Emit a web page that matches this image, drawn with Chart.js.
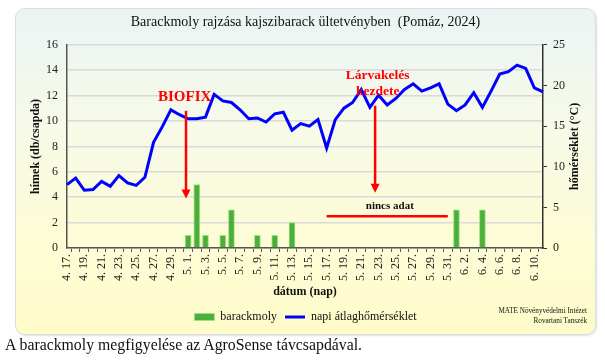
<!DOCTYPE html>
<html>
<head>
<meta charset="utf-8">
<title>Barackmoly rajzása</title>
<script src="https://cdn.jsdelivr.net/npm/chart.js@4.4.1/dist/chart.umd.min.js"></script>
<style>
    html, body { margin: 0; padding: 0; background: #fff; }
    body {
        width: 605px; height: 362px; position: relative; overflow: hidden;
        font-family: "Liberation Serif", "Times New Roman", serif;
    }
    .card {
        position: absolute; left: 15px; top: 8px; width: 579px; height: 325px;
        border: 1px solid #d9dede; border-radius: 10px;
        background: linear-gradient(to bottom, #ebf4f5 0%, #f6fae8 35%, #fdfcd6 70%, #fffcc9 100%);
        box-shadow: 1px 1px 2px rgba(0, 0, 0, 0.12);
    }
    #chartWrap { position: absolute; left: 0; top: 0; width: 605px; height: 362px; }
    .credit {
        position: absolute; right: 18px; top: 306px;
        font-size: 7.2px; line-height: 10px; text-align: right; color: #111;
    }
    .caption { position: absolute; left: 5px; top: 336px; font-size: 15.8px; color: #111; }
</style>
</head>
<body>
<div class="card"></div>
<div id="chartWrap"><canvas id="mothChart" width="605" height="362"></canvas></div>
<div class="credit">MATE Növényvédelmi Intézet<br>Rovartani Tanszék</div>
<div class="caption">A barackmoly megfigyelése az AgroSense távcsapdával.</div>

<script>
const dates = [
    '4. 17.', '4. 18.', '4. 19.', '4. 20.', '4. 21.', '4. 22.', '4. 23.', '4. 24.', '4. 25.', '4. 26.',
    '4. 27.', '4. 28.', '4. 29.', '4. 30.', '5. 1.', '5. 2.', '5. 3.', '5. 4.', '5. 5.', '5. 6.',
    '5. 7.', '5. 8.', '5. 9.', '5. 10.', '5. 11.', '5. 12.', '5. 13.', '5. 14.', '5. 15.', '5. 16.',
    '5. 17.', '5. 18.', '5. 19.', '5. 20.', '5. 21.', '5. 22.', '5. 23.', '5. 24.', '5. 25.', '5. 26.',
    '5. 27.', '5. 28.', '5. 29.', '5. 30.', '5. 31.', '6. 1.', '6. 2.', '6. 3.', '6. 4.', '6. 5.',
    '6. 6.', '6. 7.', '6. 8.', '6. 9.', '6. 10.', '6. 11.'
];

// hímek (db/csapda), null = nincs adat
const mothCounts = [
    0, 0, 0, 0, 0, 0, 0, 0, 0, 0, 0, 0, 0, 0,
    1, 5, 1, 0, 1, 3, 0, 0, 1, 0, 1, 0, 2, 0, 0, 0,
    null, null, null, null, null, null, null, null, null, null, null, null, null, null, null,
    3, 0, 0, 3, 0, 0, 0, 0, 0, 0, 0
];

// napi átlaghőmérséklet (°C)
const dailyTemp = [
    7.8, 8.6, 7.1, 7.2, 8.2, 7.6, 8.9, 8.0, 7.7, 8.7,
    13.0, 14.9, 17.0, 16.4, 15.9, 15.9, 16.1, 18.9, 18.1, 17.9,
    17.0, 15.9, 16.0, 15.5, 16.5, 16.7, 14.5, 15.3, 15.0, 15.8,
    12.3, 15.8, 17.2, 17.9, 19.5, 17.3, 18.8, 17.6, 18.4, 19.5,
    20.2, 19.3, 19.7, 20.2, 17.7, 16.9, 17.6, 19.1, 17.3, 19.3,
    21.4, 21.7, 22.5, 22.1, 19.7, 19.2
];

// "nincs adat" szakasz jelölése
const noDataMark = dates.map((d, i) => (i >= 30 && i <= 44 ? 2.5 : null));

const leftTicks = { min: 0, max: 16, step: 2 };
const rightTicks = { min: 0, max: 25, step: 5 };

Chart.defaults.font.family = '"Liberation Serif", "Times New Roman", serif';
Chart.defaults.color = '#111';

function drawArrow(ctx, x, yTop, yBottom) {
    ctx.save();
    ctx.strokeStyle = '#ff0000';
    ctx.fillStyle = '#ff0000';
    ctx.lineWidth = 2.5;
    ctx.beginPath();
    ctx.moveTo(x, yTop);
    ctx.lineTo(x, yBottom - 7);
    ctx.stroke();
    ctx.beginPath();
    ctx.moveTo(x - 4.5, yBottom - 9);
    ctx.lineTo(x + 4.5, yBottom - 9);
    ctx.lineTo(x, yBottom);
    ctx.closePath();
    ctx.fill();
    ctx.restore();
}

const notesPlugin = {
    id: 'notes',
    afterDatasetsDraw(chart) {
        const { ctx, scales } = chart;
        const x = scales.x, y = scales.y;
        const px = v => x.getPixelForValue(v);

        ctx.save();
        ctx.textAlign = 'center';
        ctx.textBaseline = 'middle';

        ctx.fillStyle = '#ff0000';
        ctx.font = 'bold 15px "Liberation Serif", serif';
        ctx.fillText('BIOFIX', px(13.6), y.getPixelForValue(11.9));
        drawArrow(ctx, px(13.75), y.getPixelForValue(10.8), y.getPixelForValue(3.9));

        ctx.font = 'bold 13.5px "Liberation Serif", serif';
        ctx.fillText('Lárvakelés', px(35.9), y.getPixelForValue(13.6));
        ctx.fillText('kezdete', px(35.9), y.getPixelForValue(12.3));
        drawArrow(ctx, px(35.6), y.getPixelForValue(11.2), y.getPixelForValue(4.35));

        ctx.fillStyle = '#111';
        ctx.font = 'bold 11px "Liberation Serif", serif';
        ctx.fillText('nincs adat', px(37.3), y.getPixelForValue(3.3));

        // right axis title, reading upwards like the left one
        const r = scales.y1;
        ctx.translate(r.right - 9, (chart.chartArea.top + chart.chartArea.bottom) / 2);
        ctx.rotate(-Math.PI / 2);
        ctx.font = 'bold 12px "Liberation Serif", serif';
        ctx.fillText('hőmérséklet (°C)', 0, 0);
        ctx.restore();
    }
};

const ctx = document.getElementById('mothChart').getContext('2d');
const mothChart = new Chart(ctx, {
    type: 'bar',
    data: {
        labels: dates,
        datasets: [
            {
                type: 'bar',
                label: 'barackmoly',
                data: mothCounts,
                yAxisID: 'y',
                backgroundColor: '#4caf3c',
                borderColor: '#9de27f',
                borderWidth: 1,
                barThickness: 6,
                pointStyle: 'rect',
                order: 1
            },
            {
                type: 'line',
                label: 'napi átlaghőmérséklet',
                data: dailyTemp,
                yAxisID: 'y1',
                borderColor: '#0000ff',
                backgroundColor: '#0000ff',
                borderWidth: 3,
                pointRadius: 0,
                pointBorderWidth: 3,
                pointStyle: 'line',
                tension: 0,
                order: 0
            },
            {
                type: 'line',
                label: 'nincs adat',
                data: noDataMark,
                yAxisID: 'y',
                borderColor: '#ff0000',
                borderWidth: 2.5,
                pointRadius: 0,
                spanGaps: false,
                order: 2
            }
        ]
    },
    options: {
        responsive: false,
        animation: false,
        layout: { padding: { left: 27, right: 21, top: 10, bottom: 29 } },
        scales: {
            x: {
                type: 'category',
                offset: false,
                grid: { display: true, drawOnChartArea: false, drawTicks: true, tickLength: 4, color: '#555', lineWidth: 1 },
                border: { color: '#555', width: 1.5 },
                ticks: {
                    autoSkip: false,
                    maxRotation: 90,
                    minRotation: 90,
                    padding: 2,
                    color: '#222',
                    font: { size: 12 },
                    callback: (value, index) => (index % 2 === 0 ? dates[index] : '')
                },
                title: {
                    display: true,
                    text: 'dátum (nap)',
                    color: '#111',
                    font: { size: 12, weight: 'bold' },
                    padding: { top: 2, bottom: 4 }
                },
                afterFit: scale => { scale.height = 55; }
            },
            y: {
                position: 'left',
                min: leftTicks.min,
                max: leftTicks.max,
                ticks: { stepSize: leftTicks.step, padding: 9, color: '#222', font: { size: 12 } },
                grid: { color: '#dadada', lineWidth: 1.5, drawTicks: false },
                border: { color: '#555', width: 1.5 },
                title: {
                    display: true,
                    text: 'hímek (db/csapda)',
                    color: '#111',
                    font: { size: 12, weight: 'bold' },
                    padding: { top: 2, bottom: 0 }
                },
                afterFit: scale => { scale.width = 40; }
            },
            y1: {
                position: 'right',
                min: rightTicks.min,
                max: rightTicks.max,
                ticks: { stepSize: rightTicks.step, padding: 6, color: '#222', font: { size: 12 } },
                grid: { drawOnChartArea: false, drawTicks: true, tickLength: 4, color: '#333' },
                border: { color: '#333', width: 1.5 },
                afterFit: scale => { scale.width = 41; }
            }
        },
        plugins: {
            title: {
                display: true,
                text: 'Barackmoly rajzása kajszibarack ültetvényben  (Pomáz, 2024)',
                color: '#111',
                font: { size: 14, weight: 'normal' },
                padding: { top: 4, bottom: 14 }
            },
            legend: {
                position: 'bottom',
                labels: {
                    usePointStyle: true,
                    pointStyleWidth: 20,
                    boxHeight: 7,
                    padding: 8,
                    color: '#111',
                    font: { size: 12 },
                    filter: item => item.datasetIndex < 2,
                    sort: (a, b) => a.datasetIndex - b.datasetIndex
                }
            },
            tooltip: { enabled: false }
        }
    },
    plugins: [notesPlugin]
});
</script>
</body>
</html>
